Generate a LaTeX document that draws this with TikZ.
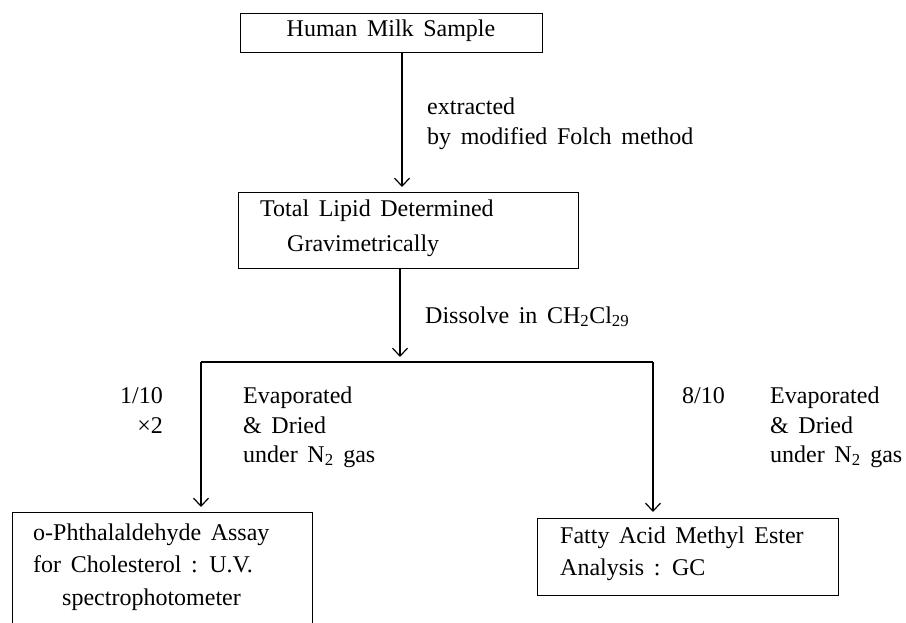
\documentclass[tikz,border=0pt]{standalone}
\usepackage{fontspec}
\setmainfont[WordSpace=1.6]{Liberation Serif}
\usetikzlibrary{arrows.meta,calc}
\begin{document}
\begin{tikzpicture}[x=1bp,y=-1bp,
  box/.style={draw, line width=1.4bp, inner sep=0pt, anchor=north west},
  txt/.style={inner sep=0pt, anchor=base west, font=\fontsize{24bp}{35bp}\selectfont},
  flow/.style={line width=1.2bp, -{Straight Barb[length=8bp,width=15bp]}},
  link/.style={line width=1.2bp}]
\clip (0,0) rectangle (906,623);
\useasboundingbox (0,0) rectangle (906,623);

% boxes
\node[box, minimum width=302bp, minimum height=39bp] (b1) at (240,13) {};
\node[box, minimum width=340bp, minimum height=76bp] (b2) at (238,192) {};
\node[box, minimum width=300bp, minimum height=150bp] (b3) at (12,512) {};
\node[box, minimum width=301bp, minimum height=77bp] (b4) at (537,518) {};

% box texts
\node[txt, anchor=base] (t1) at (391,37) {Human Milk Sample};
\node[txt] (t2a) at (260,217) {Total Lipid Determined};
\node[txt] (t2b) at (287,252) {Gravimetrically};
\node[txt] (t3a) at (33,540) {o-Phthalaldehyde Assay};
\node[txt] (t3b) at (33,572) {for Cholesterol : U.V.};
\node[txt] (t3c) at (62,605) {spectrophotometer};
\node[txt] (t4a) at (560,543) {Fatty Acid Methyl Ester};
\node[txt] (t4b) at (560,575) {Analysis : GC};

% connector coordinates
\coordinate (a1) at (402,100);
\coordinate (a2) at (400,300);
\coordinate (hl) at (201,362);
\coordinate (hr) at (653,362);

% connectors
\draw[flow, shorten >=5bp] (b1.south -| a1) -- (b2.north -| a1);
\draw[flow, shorten >=5bp] (b2.south -| a2) -- (hl -| a2);
\draw[link] (hl) -- (hr);
\draw[flow, shorten >=5bp] (hl) -- (b3.north -| hl);
\draw[flow, shorten >=6bp] (hr) -- (b4.north -| hr);

% labels
\node[txt] (l1) at (427,115) {extracted};
\node[txt] (l2) at (427,145) {by modified Folch method};
\node[txt] (l3) at (425,323) {Dissolve in CH\textsubscript{2}Cl\textsubscript{29}};
\node[txt, anchor=base east] (l4) at (163,403) {1/10};
\node[txt, anchor=base east] (l5) at (163,433) {×2};
\node[txt] (l6) at (243,403) {Evaporated};
\node[txt] (l7) at (243,433) {\& Dried};
\node[txt] (l8) at (243,462) {under N\textsubscript{2} gas};
\node[txt] (l9) at (682,403) {8/10};
\node[txt] (l10) at (770,403) {Evaporated};
\node[txt] (l11) at (770,433) {\& Dried};
\node[txt] (l12) at (770,462) {under N\textsubscript{2} gas};
\end{tikzpicture}
\end{document}
